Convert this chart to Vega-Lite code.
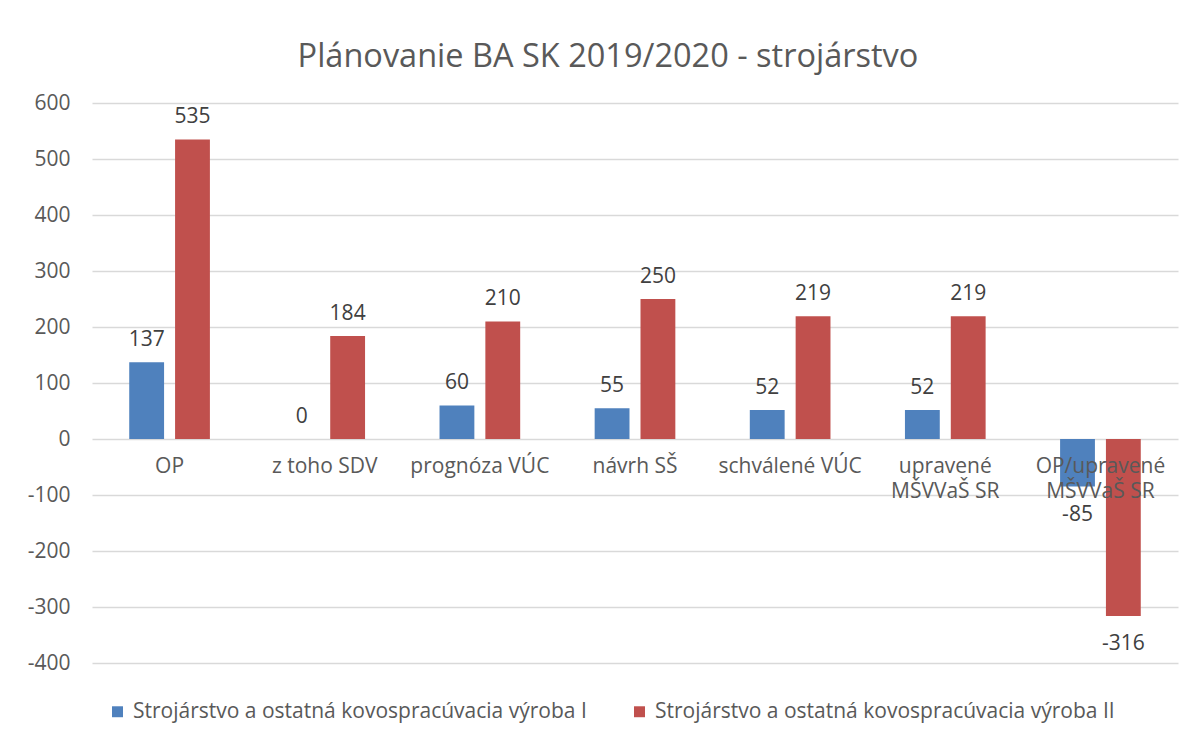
{
  "$schema": "https://vega.github.io/schema/vega-lite/v6.json",
  "width": 1086,
  "height": 560,
  "autosize": {"type": "none"},
  "padding": {"left": 92, "top": 103, "right": 17, "bottom": 75},
  "background": "white",
  "title": {
    "text": "Plánovanie BA SK 2019/2020 - strojárstvo",
    "fontSize": 32.5,
    "font": "Open Sans",
    "fontWeight": "normal",
    "color": "#595959",
    "offset": 19,
    "dx": -27
  },
  "data": {
    "values": [
      {"kategoria": "OP", "seria": "Strojárstvo a ostatná kovospracúvacia výroba I", "hodnota": 137},
      {"kategoria": "OP", "seria": "Strojárstvo a ostatná kovospracúvacia výroba II", "hodnota": 535},
      {"kategoria": "z toho SDV", "seria": "Strojárstvo a ostatná kovospracúvacia výroba I", "hodnota": 0},
      {"kategoria": "z toho SDV", "seria": "Strojárstvo a ostatná kovospracúvacia výroba II", "hodnota": 184},
      {"kategoria": "prognóza VÚC", "seria": "Strojárstvo a ostatná kovospracúvacia výroba I", "hodnota": 60},
      {"kategoria": "prognóza VÚC", "seria": "Strojárstvo a ostatná kovospracúvacia výroba II", "hodnota": 210},
      {"kategoria": "návrh SŠ", "seria": "Strojárstvo a ostatná kovospracúvacia výroba I", "hodnota": 55},
      {"kategoria": "návrh SŠ", "seria": "Strojárstvo a ostatná kovospracúvacia výroba II", "hodnota": 250},
      {"kategoria": "schválené VÚC", "seria": "Strojárstvo a ostatná kovospracúvacia výroba I", "hodnota": 52},
      {"kategoria": "schválené VÚC", "seria": "Strojárstvo a ostatná kovospracúvacia výroba II", "hodnota": 219},
      {"kategoria": "upravené MŠVVaŠ SR", "seria": "Strojárstvo a ostatná kovospracúvacia výroba I", "hodnota": 52},
      {"kategoria": "upravené MŠVVaŠ SR", "seria": "Strojárstvo a ostatná kovospracúvacia výroba II", "hodnota": 219},
      {"kategoria": "OP/upravené MŠVVaŠ SR", "seria": "Strojárstvo a ostatná kovospracúvacia výroba I", "hodnota": -85},
      {"kategoria": "OP/upravené MŠVVaŠ SR", "seria": "Strojárstvo a ostatná kovospracúvacia výroba II", "hodnota": -316}
    ]
  },
  "encoding": {
    "x": {
      "field": "kategoria",
      "type": "nominal",
      "sort": null,
      "scale": {"paddingInner": 0.48, "paddingOuter": 0.24},
      "axis": {
        "title": null,
        "orient": "bottom",
        "offset": -224,
        "domain": false,
        "ticks": false,
        "grid": false,
        "labelAngle": 0,
        "labelPadding": 16,
        "labelFontSize": 21,
        "labelFont": "Open Sans",
        "labelColor": "#595959",
        "labelLineHeight": 25,
        "labelLimit": 300,
        "zindex": 1,
        "labelExpr": "datum.label == 'upravené MŠVVaŠ SR' ? ['upravené', 'MŠVVaŠ SR'] : datum.label == 'OP/upravené MŠVVaŠ SR' ? ['OP/upravené', 'MŠVVaŠ SR'] : datum.label"
      }
    },
    "xOffset": {
      "field": "seria",
      "type": "nominal",
      "scale": {"paddingInner": 0.24, "paddingOuter": 0}
    }
  },
  "layer": [
    {
      "mark": {"type": "bar"},
      "encoding": {
        "y": {
          "field": "hodnota",
          "type": "quantitative",
          "scale": {"domain": [-400, 600], "nice": false},
          "axis": {
            "title": null,
            "values": [-400, -300, -200, -100, 0, 100, 200, 300, 400, 500, 600],
            "domain": false,
            "ticks": false,
            "labelPadding": 22,
            "labelFontSize": 21,
            "labelFont": "Open Sans",
            "labelColor": "#595959",
            "gridColor": "#d9d9d9",
            "gridWidth": 1.3
          }
        },
        "color": {
          "field": "seria",
          "type": "nominal",
          "scale": {
            "domain": ["Strojárstvo a ostatná kovospracúvacia výroba I", "Strojárstvo a ostatná kovospracúvacia výroba II"],
            "range": ["#4f81bd", "#c0504d"]
          },
          "legend": {
            "title": null,
            "orient": "none",
            "legendX": 15,
            "legendY": 598,
            "direction": "horizontal",
            "symbolType": "square",
            "symbolSize": 120,
            "symbolStrokeWidth": 0,
            "labelFontSize": 21,
            "labelFont": "Open Sans",
            "labelColor": "#595959",
            "labelLimit": 600,
            "labelOffset": 5,
            "columnPadding": 42
          }
        }
      }
    },
    {
      "transform": [{"filter": "datum.hodnota >= 0"}],
      "mark": {"type": "text", "baseline": "bottom", "dy": -12, "fontSize": 21, "font": "Open Sans", "color": "#404040"},
      "encoding": {
        "y": {"field": "hodnota", "type": "quantitative"},
        "text": {"field": "hodnota", "type": "quantitative"}
      }
    },
    {
      "transform": [{"filter": "datum.hodnota < 0"}],
      "mark": {"type": "text", "baseline": "top", "dy": 17, "fontSize": 21, "font": "Open Sans", "color": "#404040"},
      "encoding": {
        "y": {"field": "hodnota", "type": "quantitative"},
        "text": {"field": "hodnota", "type": "quantitative"}
      }
    }
  ],
  "config": {
    "view": {"stroke": null},
    "locale": {
      "number": {
        "decimal": ",",
        "thousands": " ",
        "grouping": [3],
        "currency": ["", " €"],
        "minus": "-"
      }
    }
  }
}
